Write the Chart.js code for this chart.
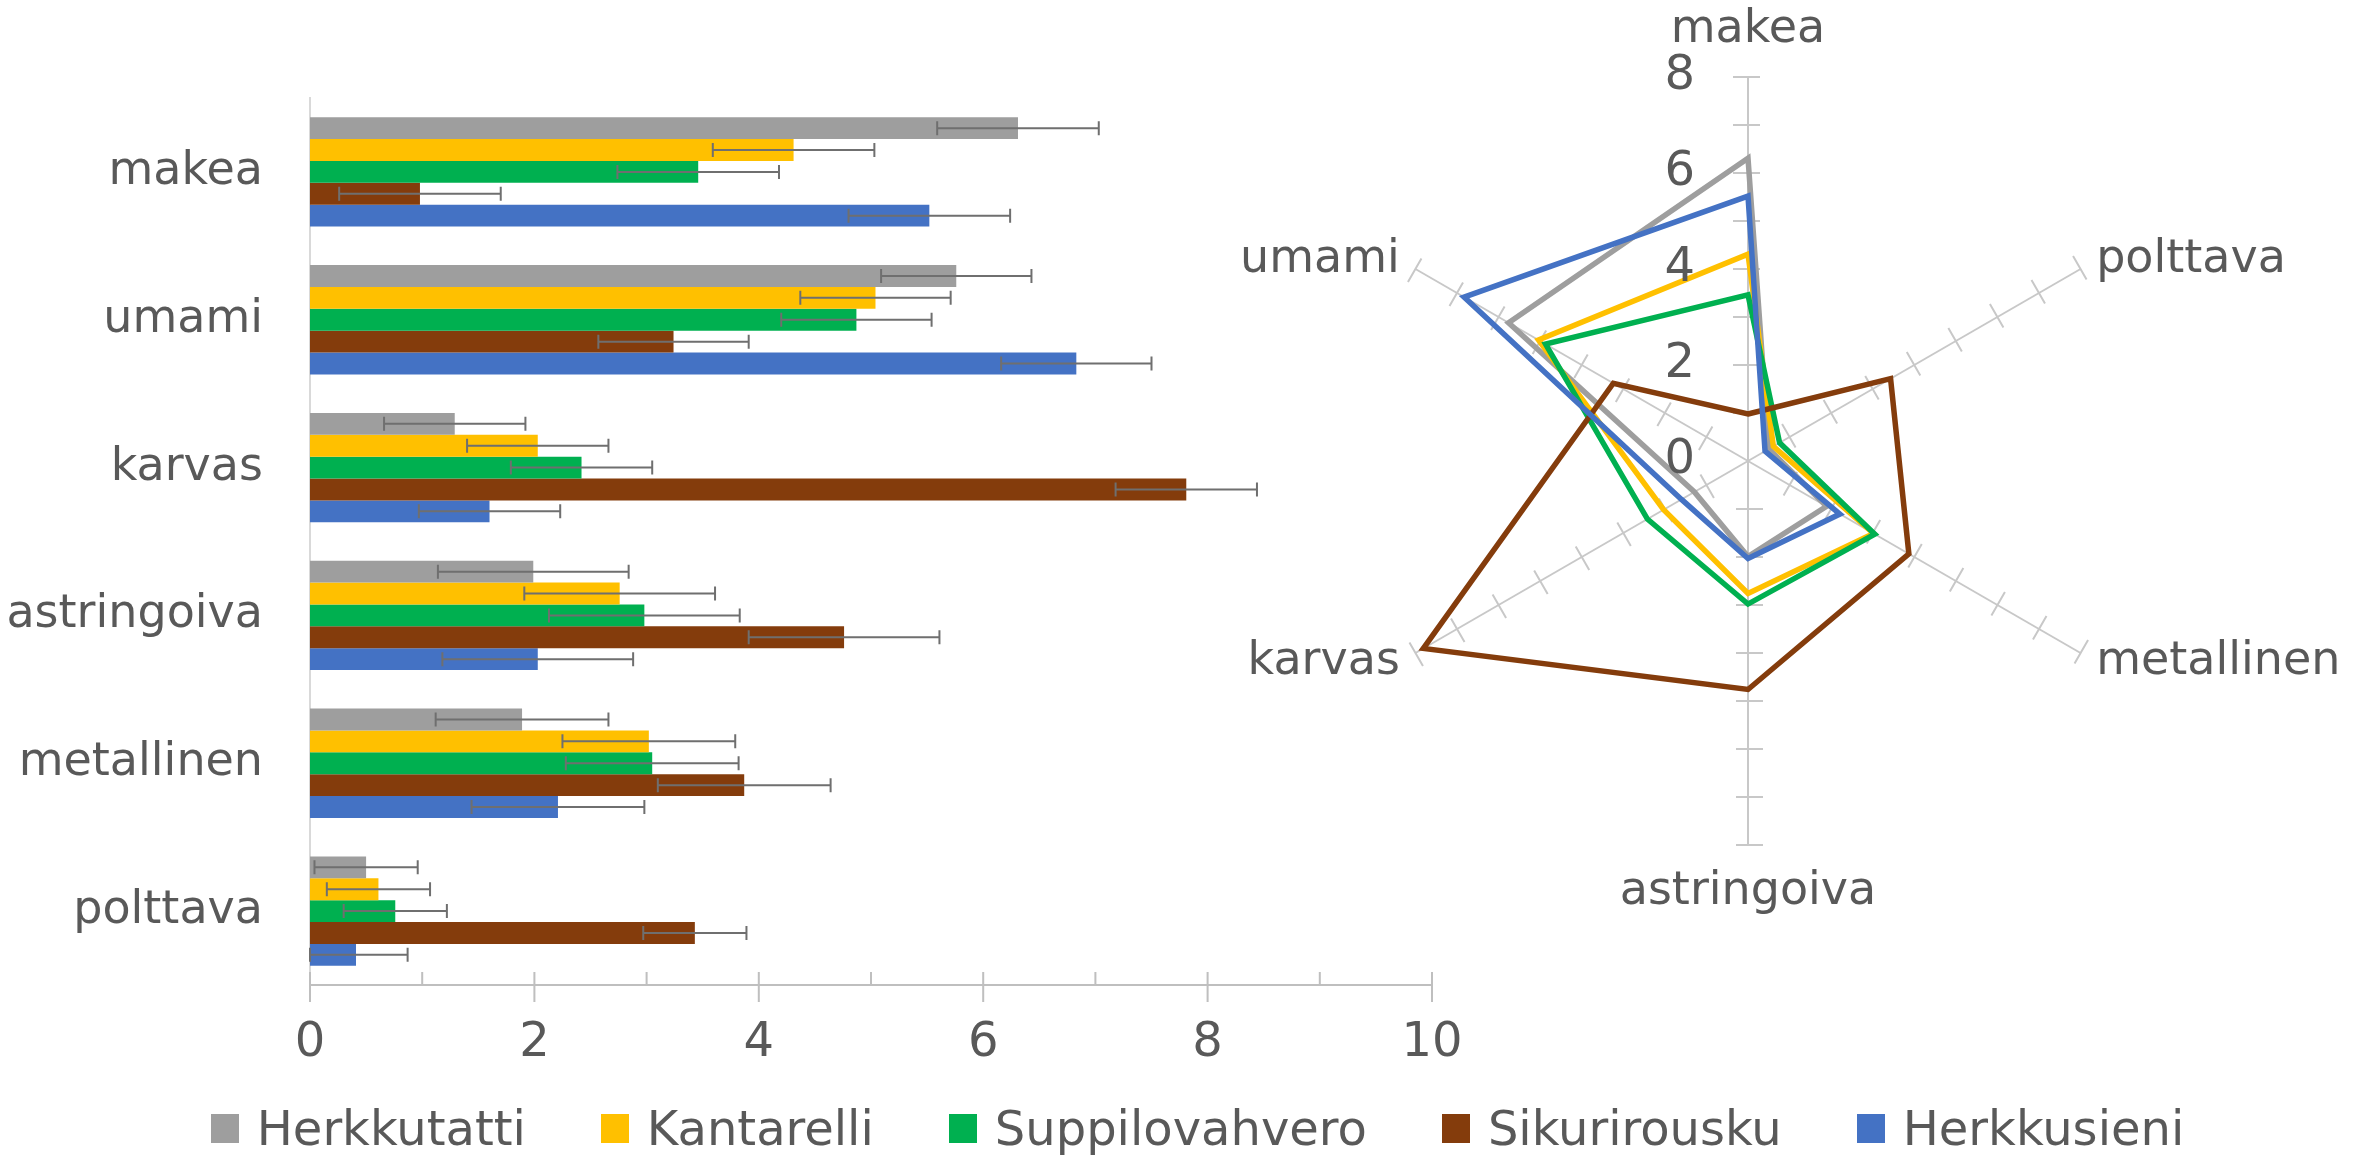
<!DOCTYPE html>
<html>
<head>
<meta charset="utf-8">
<script src="https://cdn.jsdelivr.net/npm/chart.js@4.4.0/dist/chart.umd.min.js"></script>
<style>
  html, body { margin: 0; padding: 0; background: #fff; }
  body { width: 2369px; height: 1157px; position: relative; overflow: hidden; font-family: 'DejaVu Sans', sans-serif; }
  #barChart { position: absolute; left: 0; top: 0; }
  #radarChart { position: absolute; left: 1100px; top: 0; }
  #legend { position: absolute; left: 0; top: 1100px; width: 2369px; box-sizing: border-box; padding-left: 26px;
            display: flex; justify-content: center; gap: 75px; }
  .item { display: flex; align-items: center; font-size: 48px; line-height: 56px; color: #595959; }
  .box { width: 28px; height: 29px; margin-right: 18px; }
</style>
</head>
<body>
<canvas id="barChart" width="1500" height="1157"></canvas>
<canvas id="radarChart" width="1269" height="1157"></canvas>
<div id="legend"></div>
<script>
// makuominaisuudet, sama järjestys kuin alkuperäisessä
const categories = ['makea', 'umami', 'karvas', 'astringoiva', 'metallinen', 'polttava'];
const seriesNames = ['Herkkutatti', 'Kantarelli', 'Suppilovahvero', 'Sikurirousku', 'Herkkusieni'];

const herkkutatti    = [6.31, 5.76, 1.29, 1.99, 1.89, 0.50];
const kantarelli     = [4.31, 5.04, 2.03, 2.76, 3.02, 0.61];
const suppilovahvero = [3.46, 4.87, 2.42, 2.98, 3.05, 0.76];
const sikurirousku   = [0.98, 3.24, 7.81, 4.76, 3.87, 3.43];
const herkkusieni    = [5.52, 6.83, 1.60, 2.03, 2.21, 0.41];

// virhepalkit (sama kaikille sarjoille per ominaisuus)
const errorBars = [0.72, 0.67, 0.63, 0.85, 0.77, 0.46];

const colors = ['#9E9E9E', '#FFC000', '#00B050', '#843C0C', '#4472C4'];
const radarTicks = [0, 2, 4, 6, 8];
// tutkakaavio kulkee alkuperäisessä vastapäivään
const radarOrder = [0, 5, 4, 3, 2, 1];

const seriesValues = [herkkutatti, kantarelli, suppilovahvero, sikurirousku, herkkusieni];
const textColor = '#595959';

Chart.defaults.font.family = "'DejaVu Sans', sans-serif";
Chart.defaults.color = textColor;

// virhepalkit piirretään x-asteikon kautta
const errorBarPlugin = {
    id: 'errorBars',
    afterDatasetsDraw(chart) {
        const ctx = chart.ctx;
        const xs = chart.scales.x;
        ctx.save();
        ctx.strokeStyle = '#6F6F6F';
        ctx.lineWidth = 2;
        chart.data.datasets.forEach((ds, i) => {
            chart.getDatasetMeta(i).data.forEach((bar, j) => {
                const v = ds.data[j];
                const e = errorBars[j];
                const x0 = xs.getPixelForValue(Math.max(0, v - e));
                const x1 = xs.getPixelForValue(v + e);
                const y = bar.y;
                ctx.beginPath();
                ctx.moveTo(x0, y); ctx.lineTo(x1, y);
                ctx.moveTo(x0, y - 7); ctx.lineTo(x0, y + 7);
                ctx.moveTo(x1, y - 7); ctx.lineTo(x1, y + 7);
                ctx.stroke();
            });
        });
        ctx.restore();
    }
};

// x-akselin jakoviivat: pää-jaot ristiin, väli-jaot sisäpuolelle
const xTickMarks = {
    id: 'xTickMarks',
    afterDraw(chart) {
        const ctx = chart.ctx;
        const xs = chart.scales.x;
        const y = xs.top;
        ctx.save();
        ctx.strokeStyle = '#BFBFBF';
        ctx.lineWidth = 2;
        ctx.beginPath();
        for (let v = xs.min; v <= xs.max; v++) {
            const x = xs.getPixelForValue(v);
            ctx.moveTo(x, y - 13);
            ctx.lineTo(x, v % 2 === 0 ? y + 17 : y);
        }
        ctx.stroke();
        ctx.restore();
    }
};

new Chart(document.getElementById('barChart'), {
    type: 'bar',
    data: {
        labels: categories,
        datasets: seriesNames.map((name, i) => ({
            label: name,
            data: seriesValues[i],
            backgroundColor: colors[i],
            borderWidth: 0,
            categoryPercentage: 0.74,
            barPercentage: 1
        }))
    },
    options: {
        indexAxis: 'y',
        responsive: false,
        animation: false,
        layout: { padding: { left: 0, top: 98, right: 68, bottom: 0 } },
        plugins: {
            legend: { display: false },
            tooltip: { enabled: false }
        },
        scales: {
            x: {
                min: 0,
                max: 10,
                ticks: { stepSize: 2, padding: 30, font: { size: 48 }, color: textColor },
                grid: { display: false, drawTicks: false },
                border: { color: '#BFBFBF', width: 2 },
                afterFit: (s) => { s.height = 172; }
            },
            y: {
                ticks: { padding: 47, font: { size: 46 }, color: textColor },
                grid: { display: false, drawTicks: false },
                border: { color: '#D9D9D9', width: 2 },
                afterFit: (s) => { s.width = 310; }
            }
        }
    },
    plugins: [errorBarPlugin, xTickMarks]
});

// tutkakaavion jakoviivat, asteikon numerot ja nimet
const radarDecor = {
    id: 'radarDecor',
    beforeDatasetsDraw(chart) {
        const r = chart.scales.r;
        const ctx = chart.ctx;
        ctx.save();
        ctx.strokeStyle = '#C8C8C8';
        ctx.lineWidth = 2;
        ctx.beginPath();
        chart.data.labels.forEach((l, i) => {
            const a = r.getIndexAngle(i) - Math.PI / 2;
            const nx = -Math.sin(a), ny = Math.cos(a);
            for (let v = r.min + 1; v <= r.max; v++) {
                const p = r.getPointPositionForValue(i, v);
                ctx.moveTo(p.x - nx * 15, p.y - ny * 15);
                ctx.lineTo(p.x + nx * 12, p.y + ny * 12);
            }
        });
        ctx.stroke();
        ctx.restore();
    },
    afterDraw(chart) {
        const r = chart.scales.r;
        const ctx = chart.ctx;
        ctx.save();
        ctx.fillStyle = textColor;
        ctx.textBaseline = 'middle';
        ctx.font = "48px 'DejaVu Sans', sans-serif";
        ctx.textAlign = 'right';
        radarTicks.forEach((v) => {
            const p = r.getPointPositionForValue(0, v);
            ctx.fillText(String(v), r.xCenter - 53, p.y);
        });
        ctx.font = "46px 'DejaVu Sans', sans-serif";
        chart.data.labels.forEach((label, i) => {
            const a = r.getIndexAngle(i) - Math.PI / 2;
            const c = Math.cos(a);
            let p;
            if (Math.abs(c) < 0.1) {
                p = r.getPointPosition(i, r.drawingArea + 47);
                ctx.textAlign = 'center';
            } else {
                p = r.getPointPosition(i, r.drawingArea + 18);
                ctx.textAlign = c > 0 ? 'left' : 'right';
            }
            ctx.fillText(label, p.x, p.y);
        });
        ctx.restore();
    }
};

new Chart(document.getElementById('radarChart'), {
    type: 'radar',
    data: {
        labels: radarOrder.map((k) => categories[k]),
        datasets: seriesNames.map((name, i) => ({
            label: name,
            data: radarOrder.map((k) => seriesValues[i][k]),
            borderColor: colors[i],
            backgroundColor: 'transparent',
            fill: false,
            borderWidth: 5.5,
            pointRadius: 0,
            order: seriesNames.length - 1 - i
        }))
    },
    options: {
        responsive: false,
        animation: false,
        layout: { padding: { left: 264, top: 77, right: 237, bottom: 312 } },
        plugins: {
            legend: { display: false },
            tooltip: { enabled: false }
        },
        scales: {
            r: {
                min: 0,
                max: 8,
                ticks: { display: false, stepSize: 1 },
                grid: { display: false },
                angleLines: { display: true, color: '#C8C8C8', lineWidth: 2 },
                pointLabels: { display: false }
            }
        }
    },
    plugins: [radarDecor]
});

// selite
const legend = document.getElementById('legend');
seriesNames.forEach((name, i) => {
    const item = document.createElement('div');
    item.className = 'item';
    const box = document.createElement('span');
    box.className = 'box';
    box.style.background = colors[i];
    item.appendChild(box);
    item.appendChild(document.createTextNode(name));
    legend.appendChild(item);
});
</script>
</body>
</html>
